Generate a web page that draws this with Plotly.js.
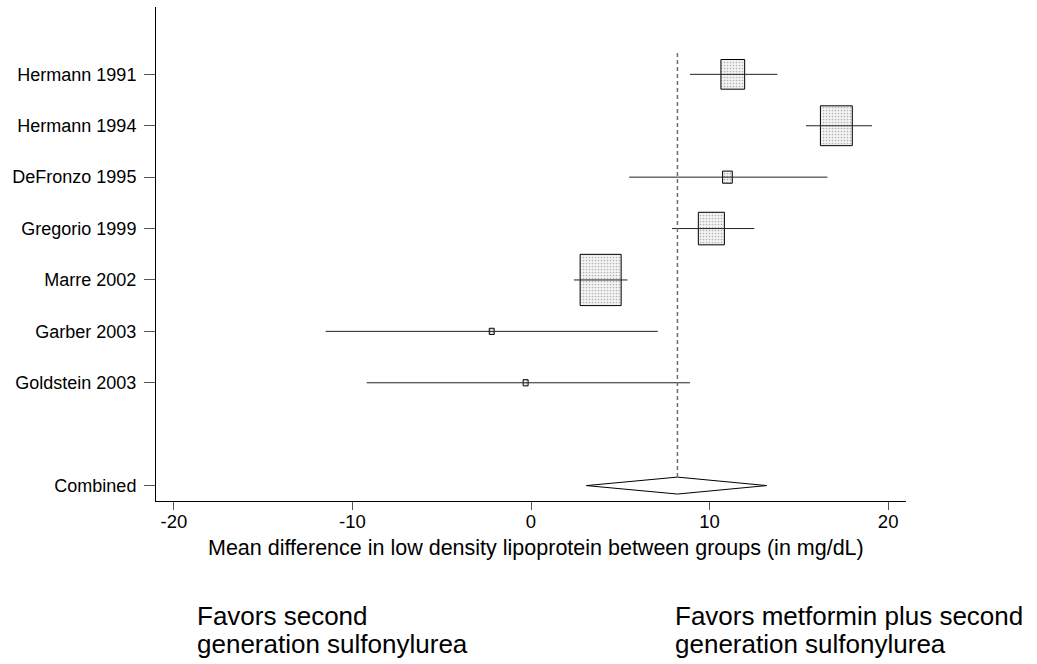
<!DOCTYPE html>
<html>
<head>
<meta charset="utf-8">
<script src="https://cdn.plot.ly/plotly-3.0.1.min.js"></script>
<style>
  html, body { margin: 0; padding: 0; background: #fff; }
  #chart { width: 1037px; height: 664px; }
</style>
</head>
<body>
<div id="chart"></div>
<script>
// Mean difference in LDL (mg/dL) per trial, with 95% confidence limits and pooled weight (%)
const studies  = ['Hermann 1991', 'Hermann 1994', 'DeFronzo 1995', 'Gregorio 1999', 'Marre 2002', 'Garber 2003', 'Goldstein 2003'];
const meanDiff = [11.3, 17.1, 11.0, 10.1, 3.9, -2.2, -0.3];
const ciLower  = [8.9, 15.4, 5.5, 7.9, 2.4, -11.5, -9.2];
const ciUpper  = [13.8, 19.1, 16.6, 12.5, 5.4, 7.1, 8.9];
const weights  = [13.8, 24.9, 2.3, 16.6, 41.2, 0.6, 0.6];

// Pooled estimate
const combinedLabel = 'Combined';
const combinedMean  = 8.2;
const combinedLower = 3.1;
const combinedUpper = 13.2;

const xTicks = [-20, -10, 0, 10, 20];
const xTitle = 'Mean difference in low density lipoprotein between groups (in mg/dL)';
const leftNote  = ['Favors second', 'generation sulfonylurea'];
const rightNote = ['Favors metformin plus second', 'generation sulfonylurea'];

const FONT = 'Liberation Sans, Arial, Helvetica, sans-serif';

// row positions: one per study, a blank row, then the pooled row
const rowPos = studies.map((_, i) => i);
const combinedPos = studies.length + 1;

// box side grows with the square root of the weight (area proportional to weight)
const BOX_SCALE = 0.358;     // x units per sqrt(weight)
const BOX_ASPECT = 0.434;    // y units per x unit of box side
const side = weights.map(w => BOX_SCALE * Math.sqrt(w));

const boxes = {
  type: 'bar',
  orientation: 'h',
  y: rowPos,
  x: side,
  base: meanDiff.map((m, i) => m - side[i] / 2),
  width: side.map(s => s * BOX_ASPECT),
  marker: {
    color: '#ffffff',
    line: { color: '#000', width: 1 },
    pattern: { shape: '.', fgcolor: '#b4b4b4', bgcolor: '#f4f4f4', size: 3, solidity: 0.25 }
  },
  hoverinfo: 'skip',
  showlegend: false
};

// confidence-interval whiskers
const ciX = [], ciY = [];
rowPos.forEach((p, i) => { ciX.push(ciLower[i], ciUpper[i], null); ciY.push(p, p, null); });
const whiskers = {
  type: 'scatter', mode: 'lines',
  x: ciX, y: ciY,
  line: { color: '#222', width: 1 },
  hoverinfo: 'skip', showlegend: false
};

// pooled-estimate diamond
const DIAMOND_HALF = 0.165;
const diamond = {
  type: 'scatter', mode: 'lines',
  x: [combinedLower, combinedMean, combinedUpper, combinedMean, combinedLower],
  y: [combinedPos, combinedPos - DIAMOND_HALF, combinedPos, combinedPos + DIAMOND_HALF, combinedPos],
  fill: 'toself', fillcolor: '#ffffff',
  line: { color: '#000', width: 1 },
  hoverinfo: 'skip', showlegend: false
};

// reference line through the pooled mean
const refLine = {
  type: 'scatter', mode: 'lines',
  x: [combinedMean, combinedMean],
  y: [-0.415, combinedPos - DIAMOND_HALF],
  line: { color: '#6e6e6e', width: 1.5, dash: '4px,3px' },
  hoverinfo: 'skip', showlegend: false
};

// pixel helpers for paper-referenced text
const M = { l: 156, r: 131, t: 7, b: 163 };
const plotW = 1037 - M.l - M.r, plotH = 664 - M.t - M.b;
const px = x => (x - M.l) / plotW;
const py = y => (664 - M.b - y) / plotH;

const noteFont = { family: FONT, size: 26, color: '#000' };
const annotations = [
  {
    xref: 'paper', yref: 'paper', x: px(536), y: py(548),
    xanchor: 'center', yanchor: 'middle',
    text: xTitle, showarrow: false,
    font: { family: FONT, size: 21.5, color: '#000' }
  },
  { xref: 'paper', yref: 'paper', x: px(195), y: py(616), xanchor: 'left', yanchor: 'middle',
    text: leftNote[0], showarrow: false, font: noteFont },
  { xref: 'paper', yref: 'paper', x: px(195), y: py(644), xanchor: 'left', yanchor: 'middle',
    text: leftNote[1], showarrow: false, font: noteFont },
  { xref: 'paper', yref: 'paper', x: px(673), y: py(616), xanchor: 'left', yanchor: 'middle',
    text: rightNote[0], showarrow: false, font: noteFont },
  { xref: 'paper', yref: 'paper', x: px(673), y: py(644), xanchor: 'left', yanchor: 'middle',
    text: rightNote[1], showarrow: false, font: noteFont }
];

const layout = {
  width: 1037, height: 664,
  margin: { l: M.l, r: M.r, t: M.t, b: M.b, pad: 0 },
  paper_bgcolor: '#ffffff', plot_bgcolor: '#ffffff',
  font: { family: FONT, color: '#000' },
  barmode: 'overlay',
  xaxis: {
    range: [-21, 21],
    tickmode: 'array', tickvals: xTicks, ticktext: xTicks.map(String),
    ticks: 'outside', ticklen: 8, tickwidth: 1, tickcolor: '#555',
    showline: true, linecolor: '#000', linewidth: 1,
    showgrid: false, zeroline: false,
    ticklabelstandoff: -4,
    tickfont: { family: FONT, size: 18.5, color: '#000' }
  },
  yaxis: {
    range: [8.3, -1.31],
    tickmode: 'array',
    tickvals: rowPos.concat([combinedPos]),
    ticktext: studies.concat([combinedLabel]),
    ticks: 'outside', ticklen: 11, tickwidth: 1, tickcolor: '#555',
    showline: true, linecolor: '#000', linewidth: 1,
    showgrid: false, zeroline: false,
    ticklabelstandoff: 4,
    tickfont: { family: FONT, size: 18, color: '#000' }
  },
  annotations: annotations
};

Plotly.newPlot('chart', [boxes, whiskers, diamond, refLine], layout, { staticPlot: true, displayModeBar: false });
</script>
</body>
</html>
